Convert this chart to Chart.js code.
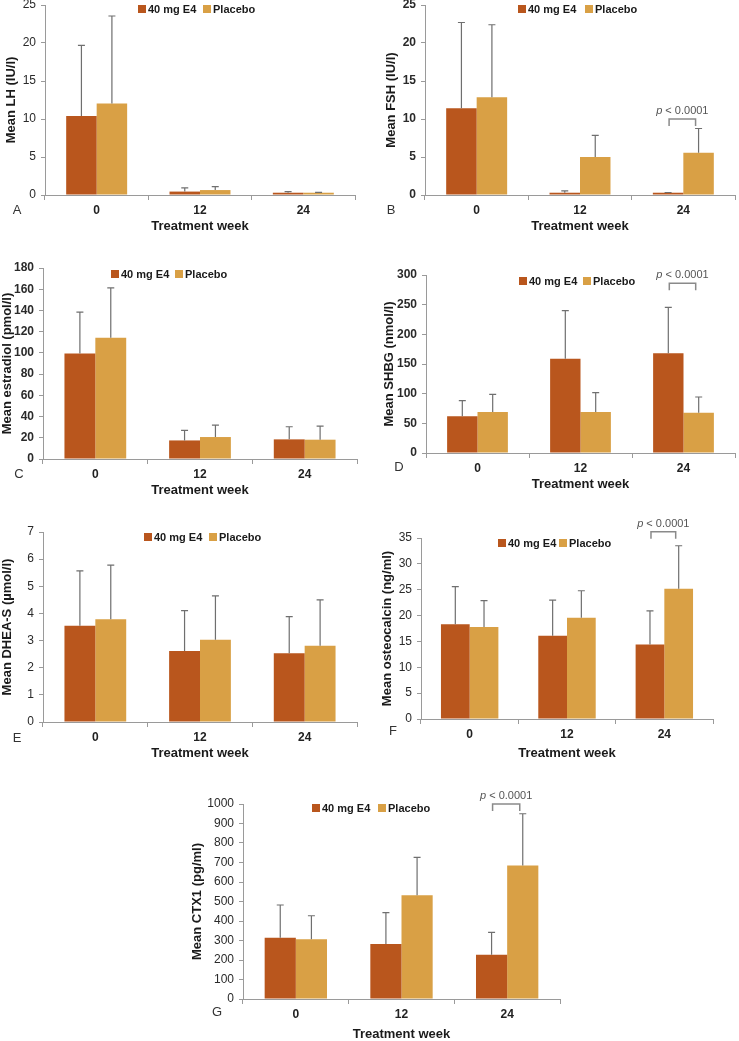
<!DOCTYPE html>
<html>
<head>
<meta charset="utf-8">
<script src="https://cdn.jsdelivr.net/npm/chart.js@4.4.0/dist/chart.umd.min.js"></script>
<style>
  html, body { margin: 0; padding: 0; background: #fff; overflow: hidden; }
  body { position: relative; width: 739px; height: 1041px; }
  canvas { position: absolute; }
</style>
</head>
<body>
<script>
const weeks = ['0', '12', '24'];

// A: LH (IU/l)
const lhE4 = [10.4, 0.45, 0.3];
const lhE4Sd = [9.3, 0.5, 0.15];
const lhPlacebo = [12.05, 0.65, 0.3];
const lhPlaceboSd = [11.5, 0.45, 0.05];
const lhTicks = [0, 5, 10, 15, 20, 25];

// B: FSH (IU/l)
const fshE4 = [11.4, 0.3, 0.3];
const fshE4Sd = [11.3, 0.23, 0.03];
const fshPlacebo = [12.85, 5.0, 5.55];
const fshPlaceboSd = [9.55, 2.85, 3.2];
const fshTicks = [0, 5, 10, 15, 20, 25];

// C: estradiol (pmol/l)
const e2E4 = [99.5, 17.5, 18.5];
const e2E4Sd = [39, 9.4, 11.9];
const e2Placebo = [114.3, 20.7, 18.2];
const e2PlaceboSd = [47, 11.3, 12.8];
const e2Ticks = [0, 20, 40, 60, 80, 100, 120, 140, 160, 180];

// D: SHBG (nmol/l)
const shbgE4 = [62, 159, 168];
const shbgE4Sd = [26.4, 81, 77.6];
const shbgPlacebo = [69, 69, 68];
const shbgPlaceboSd = [29.8, 32.7, 26.4];
const shbgTicks = [0, 50, 100, 150, 200, 250, 300];

// E: DHEA-S (µmol/l)
const dheasE4 = [3.55, 2.62, 2.53];
const dheasE4Sd = [2.02, 1.48, 1.35];
const dheasPlacebo = [3.79, 3.03, 2.81];
const dheasPlaceboSd = [1.99, 1.62, 1.69];
const dheasTicks = [0, 1, 2, 3, 4, 5, 6, 7];

// F: osteocalcin (ng/ml)
const ocE4 = [18.3, 16.1, 14.4];
const ocE4Sd = [7.3, 6.9, 6.5];
const ocPlacebo = [17.8, 19.6, 25.2];
const ocPlaceboSd = [5.1, 5.2, 8.3];
const ocTicks = [0, 5, 10, 15, 20, 25, 30, 35];

// G: CTX1 (pg/ml)
const ctxE4 = [314, 282, 227];
const ctxE4Sd = [168, 161, 115];
const ctxPlacebo = [306, 532, 684];
const ctxPlaceboSd = [121, 194, 266];
const ctxTicks = [0, 100, 200, 300, 400, 500, 600, 700, 800, 900, 1000];

const FONT = "'Liberation Sans', Arial, Helvetica, sans-serif";
const E4_COLOR = '#B9561D';
const PLACEBO_COLOR = '#D9A045';
const TITLE_LH = 13 * 1.2;

const panels = [
  { letter: 'A', yTitle: 'Mean LH (IU/l)', e4: lhE4, e4Sd: lhE4Sd, pl: lhPlacebo, plSd: lhPlaceboSd, ticks: lhTicks,
    boldTicks: false, area: [45, 5, 355, 195], yTitleX: 12, xTitleY: 226, letterAt: [17, 210], legendAt: [138, 203, 9], bracket: null },
  { letter: 'B', yTitle: 'Mean FSH (IU/l)', e4: fshE4, e4Sd: fshE4Sd, pl: fshPlacebo, plSd: fshPlaceboSd, ticks: fshTicks,
    boldTicks: true, area: [425, 5, 735, 195], yTitleX: 392, xTitleY: 226, letterAt: [391, 210], legendAt: [518, 585, 9], bracket: 10 },
  { letter: 'C', yTitle: 'Mean estradiol (pmol/l)', e4: e2E4, e4Sd: e2E4Sd, pl: e2Placebo, plSd: e2PlaceboSd, ticks: e2Ticks,
    boldTicks: true, area: [43, 268, 357, 459], yTitleX: 8, xTitleY: 490, letterAt: [19, 474], legendAt: [111, 175, 274], bracket: null },
  { letter: 'D', yTitle: 'Mean SHBG (nmol/l)', e4: shbgE4, e4Sd: shbgE4Sd, pl: shbgPlacebo, plSd: shbgPlaceboSd, ticks: shbgTicks,
    boldTicks: true, area: [426, 275, 735, 453], yTitleX: 390, xTitleY: 484, letterAt: [399, 467], legendAt: [519, 583, 281], bracket: 286 },
  { letter: 'E', yTitle: 'Mean DHEA-S (µmol/l)', e4: dheasE4, e4Sd: dheasE4Sd, pl: dheasPlacebo, plSd: dheasPlaceboSd, ticks: dheasTicks,
    boldTicks: false, area: [43, 532, 357, 722], yTitleX: 8, xTitleY: 753, letterAt: [17, 738], legendAt: [144, 209, 537], bracket: null },
  { letter: 'F', yTitle: 'Mean osteocalcin (ng/ml)', e4: ocE4, e4Sd: ocE4Sd, pl: ocPlacebo, plSd: ocPlaceboSd, ticks: ocTicks,
    boldTicks: false, area: [421, 538, 713, 719], yTitleX: 388, xTitleY: 753, letterAt: [393, 731], legendAt: [498, 559, 543], bracket: 36.2 },
  { letter: 'G', yTitle: 'Mean CTX1 (pg/ml)', e4: ctxE4, e4Sd: ctxE4Sd, pl: ctxPlacebo, plSd: ctxPlaceboSd, ticks: ctxTicks,
    boldTicks: false, area: [243, 804, 560, 999], yTitleX: 198, xTitleY: 1034, letterAt: [217, 1012], legendAt: [312, 378, 808], bracket: 1000 }
];

// upper error bars with a short cap
const errorBars = {
  id: 'errorBars',
  afterDatasetsDraw(chart) {
    const ctx = chart.ctx, y = chart.scales.y;
    chart.data.datasets.forEach((ds, i) => {
      chart.getDatasetMeta(i).data.forEach((bar, j) => {
        const top = y.getPixelForValue(ds.data[j] + ds.sd[j]);
        ctx.save();
        ctx.strokeStyle = '#6f6f6f';
        ctx.lineWidth = 1.2;
        ctx.beginPath();
        ctx.moveTo(bar.x, bar.y);
        ctx.lineTo(bar.x, top);
        ctx.moveTo(bar.x - 3.5, top);
        ctx.lineTo(bar.x + 3.5, top);
        ctx.stroke();
        ctx.restore();
      });
    });
  }
};

// legend, panel letter and p-value bracket
const extras = {
  id: 'extras',
  afterDraw(chart, args, opts) {
    const p = opts.panel, ctx = chart.ctx;
    const ox = p.ox, oy = p.oy;
    ctx.save();

    // legend
    ctx.font = 'bold 11px ' + FONT;
    ctx.textBaseline = 'middle';
    ctx.textAlign = 'left';
    const [lx1, lx2, ly] = p.legendAt;
    [[lx1, E4_COLOR, '40 mg E4'], [lx2, PLACEBO_COLOR, 'Placebo']].forEach(([lx, col, txt]) => {
      ctx.fillStyle = col;
      ctx.fillRect(lx - ox, ly - oy - 4, 8, 8);
      ctx.fillStyle = '#1a1a1a';
      ctx.fillText(txt, lx - ox + 10, ly - oy + 0.5);
    });

    // panel letter
    ctx.font = '13px ' + FONT;
    ctx.fillStyle = '#333';
    ctx.textAlign = 'center';
    ctx.fillText(p.letter, p.letterAt[0] - ox, p.letterAt[1] - oy);

    // significance bracket at week 24
    if (p.bracket != null) {
      const b0 = chart.getDatasetMeta(0).data[2];
      const b1 = chart.getDatasetMeta(1).data[2];
      const yb = chart.scales.y.getPixelForValue(p.bracket);
      const xa = b0.x + 1, xb = b1.x - 3;
      ctx.strokeStyle = '#8a8a8a';
      ctx.lineWidth = 1.5;
      ctx.beginPath();
      ctx.moveTo(xa, yb + 7);
      ctx.lineTo(xa, yb);
      ctx.lineTo(xb, yb);
      ctx.lineTo(xb, yb + 7);
      ctx.stroke();

      ctx.fillStyle = '#555';
      ctx.textAlign = 'left';
      ctx.font = 'italic 11px ' + FONT;
      const w1 = ctx.measureText('p').width;
      ctx.font = '11px ' + FONT;
      const rest = ' < 0.0001';
      const w2 = ctx.measureText(rest).width;
      const tx = (xa + xb) / 2 - (w1 + w2) / 2;
      const ty = yb - 8;
      ctx.font = 'italic 11px ' + FONT;
      ctx.fillText('p', tx, ty);
      ctx.font = '11px ' + FONT;
      ctx.fillText(rest, tx + w1, ty);
    }
    ctx.restore();
  }
};

Chart.defaults.font.family = FONT;
Chart.defaults.animation = false;

panels.forEach(p => {
  const [x0, y0, x1, y1] = p.area;
  const padL = 2, padT = 22, padR = 6;
  const left = Math.round(p.yTitleX - TITLE_LH / 2 - padL);
  const top = y0 - padT;
  const width = x1 + padR - left;
  const bottom = p.xTitleY + TITLE_LH / 2;
  const height = Math.round(bottom - top);
  p.ox = left;
  p.oy = top;

  const canvas = document.createElement('canvas');
  canvas.width = width;
  canvas.height = height;
  canvas.style.left = left + 'px';
  canvas.style.top = top + 'px';
  canvas.style.width = width + 'px';
  canvas.style.height = height + 'px';
  document.body.appendChild(canvas);

  const yWidth = x0 - (left + padL);
  const xHeight = (top + height) - y1;
  const yMax = p.ticks[p.ticks.length - 1];

  new Chart(canvas, {
    type: 'bar',
    data: {
      labels: weeks,
      datasets: [
        { label: '40 mg E4', data: p.e4, sd: p.e4Sd, backgroundColor: E4_COLOR,
          categoryPercentage: 0.59, barPercentage: 1.0, borderWidth: 0 },
        { label: 'Placebo', data: p.pl, sd: p.plSd, backgroundColor: PLACEBO_COLOR,
          categoryPercentage: 0.59, barPercentage: 1.0, borderWidth: 0 }
      ]
    },
    options: {
      responsive: false,
      devicePixelRatio: 1,
      layout: { padding: { left: padL, top: padT, right: padR, bottom: 0 } },
      scales: {
        x: {
          offset: true,
          grid: { offset: true, drawOnChartArea: false, drawTicks: true, tickLength: 5, color: '#9a9a9a' },
          border: { display: true, color: '#9a9a9a', width: 1 },
          ticks: { font: { size: 12, weight: 'bold' }, color: '#222', padding: 3 },
          title: { display: true, text: 'Treatment week', font: { size: 13, weight: 'bold' }, color: '#1a1a1a', padding: 0 },
          afterFit: s => { s.height = xHeight; s.paddingLeft = 0; s.paddingRight = 0; }
        },
        y: {
          min: 0,
          max: yMax,
          grid: { drawOnChartArea: false, drawTicks: true, tickLength: 4, color: '#9a9a9a' },
          border: { display: true, color: '#9a9a9a', width: 1 },
          ticks: {
            font: { size: 12, weight: p.boldTicks ? 'bold' : 'normal' },
            color: '#2a2a2a',
            padding: 5,
            callback: v => String(v)
          },
          title: { display: true, text: p.yTitle, font: { size: 13, weight: 'bold' }, color: '#1a1a1a', padding: 0 },
          afterBuildTicks: s => { s.ticks = p.ticks.map(v => ({ value: v })); },
          afterFit: s => { s.width = yWidth; s.paddingTop = 0; s.paddingBottom = 0; }
        }
      },
      plugins: {
        legend: { display: false },
        tooltip: { enabled: false },
        extras: { panel: p }
      }
    },
    plugins: [errorBars, extras]
  });
});
</script>
</body>
</html>
